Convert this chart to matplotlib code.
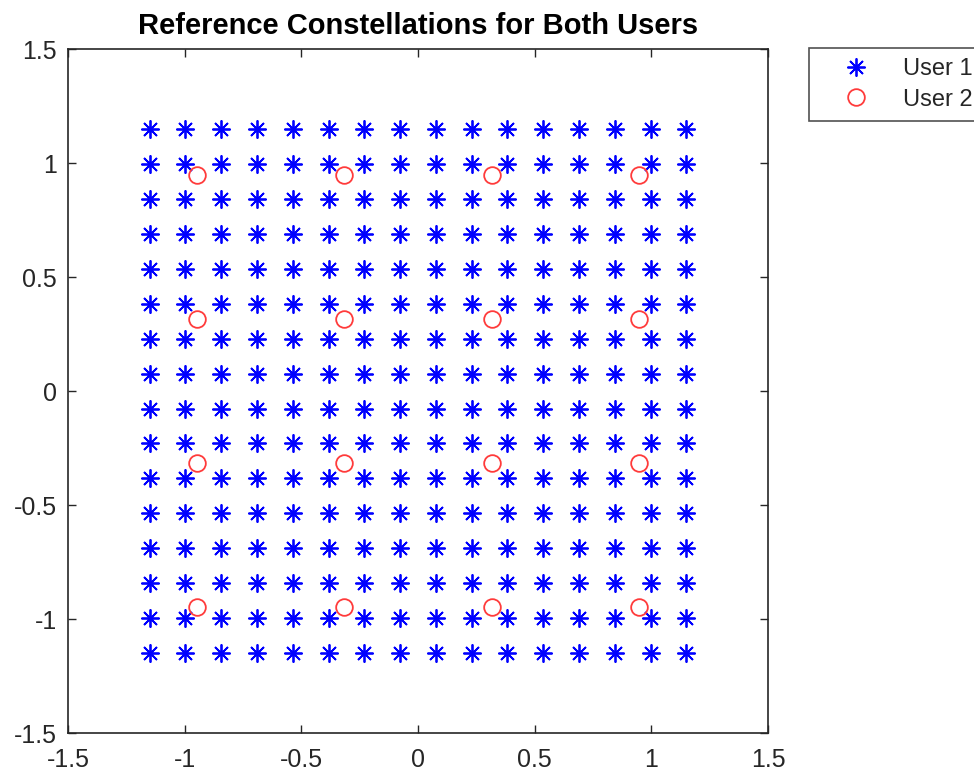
import matplotlib.pyplot as plt
import numpy as np

# 256-QAM levels for user 1 (unit average power), 16-QAM levels for user 2
user1_levels = [-1.1504, -0.9971, -0.8437, -0.6903, -0.5369, -0.3835, -0.2301, -0.0767,
                0.0767, 0.2301, 0.3835, 0.5369, 0.6903, 0.8437, 0.9971, 1.1504]
user2_levels = [-0.9487, -0.3162, 0.3162, 0.9487]

axis_ticks = [-1.5, -1, -0.5, 0, 0.5, 1, 1.5]
tick_labels = ["-1.5", "-1", "-0.5", "0", "0.5", "1", "1.5"]

plt.rcParams['font.family'] = ['Liberation Sans', 'DejaVu Sans']


def main():
    u1_i, u1_q = np.meshgrid(user1_levels, user1_levels)
    u2_i, u2_q = np.meshgrid(user2_levels, user2_levels)

    fig = plt.figure(figsize=(9.74, 7.76), dpi=100)
    ax = fig.add_axes([0.0698, 0.0554, 0.7187, 0.8814])

    ax.plot(u1_i.ravel(), u1_q.ravel(), linestyle='none', marker=(8, 2, 0),
            markersize=13, markeredgewidth=1.3, color='#0000ff', label='User 1')
    ax.plot(u2_i.ravel(), u2_q.ravel(), linestyle='none', marker='o',
            markersize=12, markeredgewidth=1.3, markerfacecolor='none',
            markeredgecolor='#ff3b3b', label='User 2')

    ax.set_xlim(-1.5, 1.5)
    ax.set_ylim(-1.5, 1.5)
    ax.set_xticks(axis_ticks)
    ax.set_xticklabels(tick_labels)
    ax.set_yticks(axis_ticks)
    ax.set_yticklabels(tick_labels)
    ax.tick_params(direction='in', top=True, right=True, length=6, width=1,
                   color='#262626', labelcolor='#262626', labelsize=18)
    ax.tick_params(axis='x', pad=11)
    ax.tick_params(axis='y', pad=8)
    for spine in ax.spines.values():
        spine.set_color('#262626')
        spine.set_linewidth(1.2)

    ax.set_title("Reference Constellations for Both Users", fontsize=21,
                 fontweight='bold', color='black', pad=11)

    # legend sits to the right of the axes and runs off the figure edge
    leg = fig.legend(loc='upper left', bbox_to_anchor=(0.8306, 0.9381),
                     fontsize=17, frameon=True, fancybox=False, edgecolor='#262626',
                     handletextpad=0.46, borderpad=0.42, labelspacing=0.37,
                     handlelength=3.1, borderaxespad=0)
    leg.get_frame().set_linewidth(1.2)
    for t in leg.get_texts():
        t.set_color('#262626')

    fig.savefig('out.png', dpi=100)
    return 0


if __name__ == "__main__":
    main()
